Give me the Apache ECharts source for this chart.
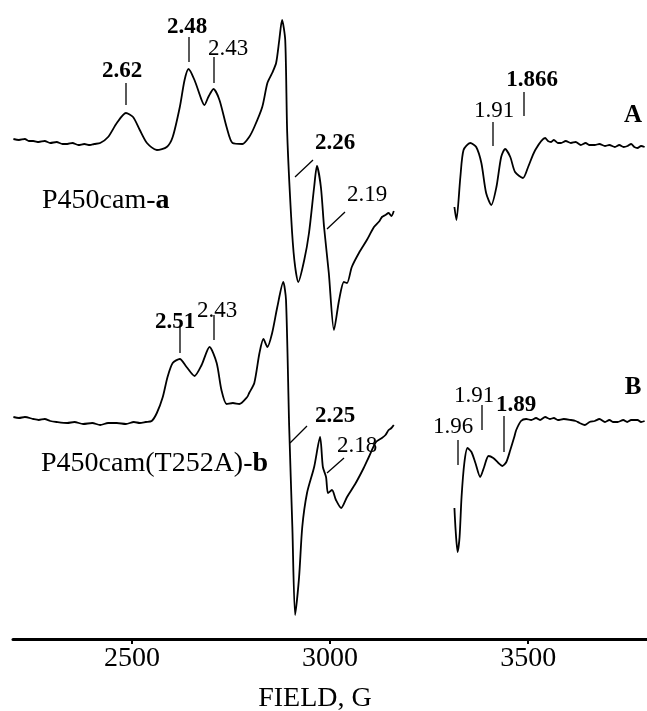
<!DOCTYPE html>
<html>
<head>
<meta charset="utf-8">
<script src="https://cdn.jsdelivr.net/npm/echarts@6/dist/echarts.min.js"></script>
<style>
html,body{margin:0;padding:0;background:#fff;}
#chart{width:647px;height:711px;}
</style>
</head>
<body>
<div id="chart"></div>
<script>
// ---- Data (field in gauss, derivative signal in arbitrary units) ----
// Trace A (P450cam-a), low-field segment
var fieldA1 = [2201,2215,2230,2240,2251,2265,2280,2294,2310,2325,2337,2350,2365,2380,2394,2405,2420,2440,2462,2485,2503,2520,2538,2563,2588,2603,2621,2633,2643,2658,2676,2683,2693,2706,2721,2739,2754,2779,2796,2809,2829,2842,2854,2864,2872,2879,2887,2892,2902,2910,2920,2935,2947,2960,2967,2977,2985,2997,3010,3023,3035,3043,3055,3073,3093,3111,3125,3131,3140,3148,3155,3161];
var signalA1 = [6,5,6,4,4,3,4,2,3,1,1,2,0,1,0,1,2,8,22,32,28,15,2,-5,-2,8,38,65,76,65,45,40,48,56,45,18,2,1,8,18,38,62,72,82,105,125,105,12,-72,-115,-137,-115,-88,-42,-21,-42,-82,-128,-185,-155,-137,-138,-122,-108,-95,-82,-76,-72,-70,-68,-71,-66];
// Trace A, high-field segment
var fieldA2 = [3314,3319,3329,3337,3354,3369,3382,3394,3407,3420,3432,3442,3455,3467,3487,3500,3518,3543,3550,3558,3565,3575,3583,3595,3608,3620,3633,3645,3655,3668,3680,3694,3705,3719,3730,3741,3751,3760,3768,3776,3785,3794];
var signalA2 = [-62,-75,-32,-5,2,-2,-18,-48,-60,-42,-12,-4,-12,-27,-33,-22,-5,7,4,3,5,2,2,4,2,3,0,2,0,0,1,-1,0,-2,0,-2,-1,1,-2,-3,-1,-2];
// Trace B (P450cam(T252A)-b), low-field segment
var fieldB1 = [2201,2215,2230,2251,2265,2280,2294,2310,2337,2355,2377,2400,2420,2440,2462,2485,2505,2520,2535,2550,2563,2578,2590,2603,2621,2638,2658,2676,2696,2714,2726,2739,2755,2771,2791,2796,2809,2822,2832,2842,2854,2867,2882,2889,2897,2905,2912,2922,2930,2942,2960,2975,2982,2990,2995,3005,3015,3028,3043,3065,3085,3098,3116,3131,3140,3148,3155,3161];
var signalB1 = [4,3,4,2,1,2,0,-1,-2,-1,-3,-2,-4,-2,-2,-3,-1,-2,-1,0,8,24,44,58,62,54,45,56,74,58,31,17,18,17,24,28,38,68,82,74,88,114,139,121,-6,-106,-194,-156,-106,-72,-46,-16,-46,-56,-72,-69,-79,-87,-76,-62,-47,-36,-21,-17,-14,-9,-7,-4];
// Trace B, high-field segment
var fieldB2 = [3314,3317,3322,3327,3332,3339,3347,3357,3367,3379,3389,3400,3412,3425,3435,3445,3455,3465,3470,3482,3495,3508,3520,3530,3543,3555,3565,3575,3590,3608,3620,3630,3643,3655,3668,3680,3694,3705,3715,3726,3740,3750,3760,3776,3785,3794];
var signalB2 = [-87,-109,-131,-116,-76,-42,-27,-31,-42,-56,-46,-35,-37,-42,-45,-41,-29,-16,-9,0,2,1,3,1,4,2,3,1,2,1,0,-2,-4,-1,0,2,-1,1,-1,-1,1,-1,1,1,-1,0];
// Axis tick labels
var tickValues = [2500, 3000, 3500];
// g-value annotations
var gLabelsA = ['2.62','2.48','2.43','2.26','2.19','1.91','1.866'];
var gLabelsB = ['2.51','2.43','2.25','2.18','1.96','1.91','1.89'];

// ---- Layout (pixels) ----
var OFFSET_A = 494, OFFSET_B = 218;
function pairs(f, s, off) { return f.map(function (x, i) { return [x, s[i] + off]; }); }

var FONT = '"Liberation Serif", "Times New Roman", serif';
var annA = [
  {t:0, b:true,  x:122, y:71,  l:[126,83,126,105]},
  {t:1, b:true,  x:187, y:27,  l:[189,37,189,62]},
  {t:2, b:false, x:228, y:49,  l:[214,57,214,83]},
  {t:3, b:true,  x:335, y:143, l:[313,160,295,177]},
  {t:4, b:false, x:367, y:195, l:[345,212,327,229]},
  {t:5, b:false, x:494, y:111, l:[493,122,493,146]},
  {t:6, b:true,  x:532, y:80,  l:[524,92,524,116]}
];
var annB = [
  {t:0, b:true,  x:175, y:322, l:[180,327,180,353]},
  {t:1, b:false, x:217, y:311, l:[214,315,214,340]},
  {t:2, b:true,  x:335, y:416, l:[307,426,290,443]},
  {t:3, b:false, x:357, y:446, l:[344,458,327,473]},
  {t:4, b:false, x:453, y:427, l:[458,440,458,465]},
  {t:5, b:false, x:474, y:396, l:[482,405,482,430]},
  {t:6, b:true,  x:516, y:405, l:[504,416,504,452]}
];
var graphics = [];
function addAnn(list, labels) {
  list.forEach(function (a) {
    graphics.push({type:'text', x:a.x, y:a.y, style:{text:labels[a.t], fill:'#000',
      font:(a.b?'bold ':'') + '23px ' + FONT, textAlign:'center', textVerticalAlign:'middle'}});
    graphics.push({type:'line', shape:{x1:a.l[0], y1:a.l[1], x2:a.l[2], y2:a.l[3]},
      style:{stroke:'#000', lineWidth:1.3}});
  });
}
addAnn(annA, gLabelsA);
addAnn(annB, gLabelsB);
graphics.push({type:'text', x:633, y:116, style:{text:'A', fill:'#000', font:'bold 25px ' + FONT, textAlign:'center', textVerticalAlign:'middle'}});
graphics.push({type:'text', x:633, y:388, style:{text:'B', fill:'#000', font:'bold 25px ' + FONT, textAlign:'center', textVerticalAlign:'middle'}});
graphics.push({type:'text', x:42, y:201, style:{text:'{n|P450cam-}{b|a}', fill:'#000', textAlign:'left', textVerticalAlign:'middle',
  rich:{n:{font:'28px ' + FONT, fill:'#000'}, b:{font:'bold 28px ' + FONT, fill:'#000'}}}});
graphics.push({type:'text', x:41, y:464, style:{text:'{n|P450cam(T252A)-}{b|b}', fill:'#000', textAlign:'left', textVerticalAlign:'middle',
  rich:{n:{font:'28px ' + FONT, fill:'#000'}, b:{font:'bold 28px ' + FONT, fill:'#000'}}}});
graphics.push({type:'text', x:315, y:699, style:{text:'FIELD, G', fill:'#000', font:'28px ' + FONT, textAlign:'center', textVerticalAlign:'middle'}});

var lineStyle = {color:'#000', width:1.8};
function mk(f, s, off) {
  return {type:'line', data:pairs(f, s, off), showSymbol:false, smooth:0.25, lineStyle:lineStyle, silent:true, animation:false};
}

var chart = echarts.init(document.getElementById('chart'), null, {renderer:'canvas'});
chart.setOption({
  backgroundColor:'#fff',
  animation:false,
  grid:{left:13, right:0, top:0, bottom:72, containLabel:false},
  xAxis:{type:'value', min:2200, max:3800,
    axisLine:{show:true, onZero:false, lineStyle:{color:'#000', width:3}},
    axisTick:{show:true, length:5, lineStyle:{color:'#000', width:2}, customValues:tickValues},
    axisLabel:{color:'#000', fontFamily:FONT, fontSize:28, margin:6, customValues:tickValues,
      formatter:function (v) { return String(v); }},
    splitLine:{show:false}},
  yAxis:{type:'value', min:0, max:639, show:false, splitLine:{show:false}},
  series:[mk(fieldA1, signalA1, OFFSET_A), mk(fieldA2, signalA2, OFFSET_A),
          mk(fieldB1, signalB1, OFFSET_B), mk(fieldB2, signalB2, OFFSET_B)],
  graphic:graphics
});
</script>
</body>
</html>
